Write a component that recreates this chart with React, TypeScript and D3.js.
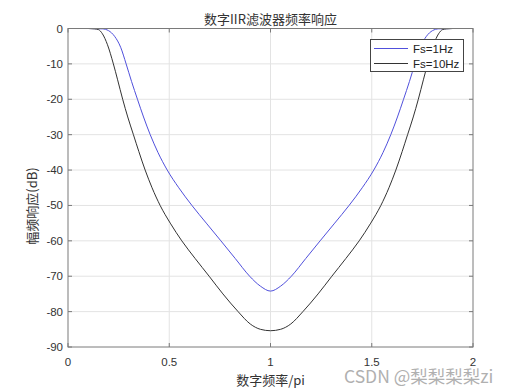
import { useEffect, useRef } from 'react';
import * as d3 from 'd3';

// normalized frequency (x pi) and magnitude (dB)
const freqFs1 = [0, 0.1, 0.17, 0.2, 0.23, 0.26, 0.287, 0.314, 0.343, 0.373, 0.406, 0.444, 0.49, 0.547, 0.612, 0.683, 0.755, 0.826, 0.897, 0.95, 1.0,
  1.05, 1.103, 1.174, 1.245, 1.317, 1.388, 1.453, 1.51, 1.556, 1.594, 1.627, 1.657, 1.686, 1.713, 1.74, 1.77, 1.8, 1.83, 1.9, 2.0];
const dbFs1 = [0, 0, -0.1, -0.6, -2.2, -5.3, -10, -15, -20, -25, -30, -35, -40, -45, -50, -55, -60, -65, -70, -72.8, -74.2,
  -72.8, -70, -65, -60, -55, -50, -45, -40, -35, -30, -25, -20, -15, -10, -5.3, -2.2, -0.6, -0.1, 0, 0];

const freqFs10 = [0, 0.1, 0.13, 0.15, 0.17, 0.195, 0.224, 0.245, 0.27, 0.295, 0.323, 0.35, 0.381, 0.415, 0.455, 0.505, 0.562, 0.628, 0.697, 0.765, 0.84, 0.9, 0.95, 1.0,
  1.05, 1.1, 1.16, 1.235, 1.303, 1.372, 1.438, 1.495, 1.545, 1.585, 1.619, 1.65, 1.677, 1.705, 1.73, 1.755, 1.776, 1.805, 1.83, 1.85, 1.87, 1.9, 2.0];
const dbFs10 = [0, 0, -0.1, -0.3, -1.5, -4.6, -10, -14.5, -20, -25, -30, -34.8, -40, -45, -50, -55, -60, -65, -70, -75, -80, -83.5, -85, -85.4,
  -85, -83.5, -80, -75, -70, -65, -60, -55, -50, -45, -40, -34.8, -30, -25, -20, -14.5, -10, -4.6, -1.5, -0.3, -0.1, 0, 0];

const xTicks = [0, 0.5, 1, 1.5, 2];
const yTicks = [0, -10, -20, -30, -40, -50, -60, -70, -80, -90];

const seriesNames = ['Fs=1Hz', 'Fs=10Hz'];
const seriesColors = ['#5050dc', '#333333'];

const W = 523;
const H = 392;
const CJK = '"Noto Sans CJK SC", "Liberation Sans", Arial, sans-serif';
const SANS = '"Liberation Sans", Arial, sans-serif';

export default function App() {
  const svgRef = useRef<SVGSVGElement>(null);

  useEffect(() => {
    if (!svgRef.current) return;
    const svg = d3.select(svgRef.current);
    svg.selectAll('*').remove();

    const left = 68, right = 473, top = 28.5, bottom = 347;
    const x = d3.scaleLinear([0, 2], [left, right]);
    const y = d3.scaleLinear([-90, 0], [bottom, top]);

    svg.append('rect').attr('width', W).attr('height', H).attr('fill', '#fff');

    // grid
    svg.selectAll('.gx').data(xTicks.slice(1, -1)).join('line')
      .attr('x1', d => x(d)).attr('x2', d => x(d)).attr('y1', top).attr('y2', bottom)
      .attr('stroke', '#e3e3e3').attr('stroke-width', 1);
    svg.selectAll('.gy').data(yTicks.slice(1, -1)).join('line')
      .attr('x1', left).attr('x2', right).attr('y1', d => y(d)).attr('y2', d => y(d))
      .attr('stroke', '#e3e3e3').attr('stroke-width', 1);

    // curves
    const line = d3.line<[number, number]>().x(d => x(d[0])).y(d => y(d[1])).curve(d3.curveMonotoneX);
    const series: [number, number][][] = [
      freqFs1.map((f, i) => [f, dbFs1[i]]),
      freqFs10.map((f, i) => [f, dbFs10[i]]),
    ];
    series.forEach((pts, i) => {
      svg.append('path').datum(pts).attr('d', line).attr('fill', 'none')
        .attr('stroke', seriesColors[i]).attr('stroke-width', 1);
    });

    // axes box + inward ticks
    svg.append('rect').attr('x', left).attr('y', top).attr('width', right - left).attr('height', bottom - top)
      .attr('fill', 'none').attr('stroke', '#7a7a7a').attr('stroke-width', 1);
    xTicks.forEach(t => {
      svg.append('line').attr('x1', x(t)).attr('x2', x(t)).attr('y1', bottom).attr('y2', bottom - 4).attr('stroke', '#7a7a7a');
      svg.append('line').attr('x1', x(t)).attr('x2', x(t)).attr('y1', top).attr('y2', top + 4).attr('stroke', '#7a7a7a');
    });
    yTicks.forEach(t => {
      svg.append('line').attr('x1', left).attr('x2', left + 4).attr('y1', y(t)).attr('y2', y(t)).attr('stroke', '#7a7a7a');
      svg.append('line').attr('x1', right).attr('x2', right - 4).attr('y1', y(t)).attr('y2', y(t)).attr('stroke', '#7a7a7a');
    });

    // tick labels
    svg.selectAll('.xl').data(xTicks).join('text')
      .attr('x', d => x(d)).attr('y', bottom + 19).attr('text-anchor', 'middle')
      .attr('font-family', SANS).attr('font-size', 11.5).attr('fill', '#333').text(d => d3.format('')(d));
    svg.selectAll('.yl').data(yTicks).join('text')
      .attr('x', left - 5).attr('y', d => y(d) + 4).attr('text-anchor', 'end')
      .attr('font-family', SANS).attr('font-size', 11.5).attr('fill', '#333').text(d => String(d));

    // titles
    svg.append('text').attr('x', (left + right) / 2).attr('y', 23.5).attr('text-anchor', 'middle')
      .attr('font-family', CJK).attr('font-size', 13).attr('fill', '#333').text('数字IIR滤波器频率响应');
    svg.append('text').attr('x', (left + right) / 2).attr('y', 385).attr('text-anchor', 'middle')
      .attr('font-family', CJK).attr('font-size', 13).attr('fill', '#333').text('数字频率/pi');
    svg.append('text').attr('transform', 'translate(37,206) rotate(-90)').attr('text-anchor', 'middle')
      .attr('font-family', CJK).attr('font-size', 13).attr('fill', '#333').text('幅频响应(dB)');

    // legend
    const lg = svg.append('g');
    lg.append('rect').attr('x', 370.5).attr('y', 39.5).attr('width', 93).attr('height', 32)
      .attr('fill', '#fff').attr('stroke', '#444').attr('stroke-width', 1);
    seriesNames.forEach((name, i) => {
      const ly = 48.5 + i * 15;
      lg.append('line').attr('x1', 374).attr('x2', 408).attr('y1', ly).attr('y2', ly)
        .attr('stroke', seriesColors[i]).attr('stroke-width', 1);
      lg.append('text').attr('x', 413).attr('y', ly + 4).attr('font-family', SANS).attr('font-size', 11.5)
        .attr('fill', '#222').text(name);
    });

    // watermark
    svg.append('text').attr('x', 344).attr('y', 383).attr('font-family', CJK).attr('font-size', 17.5)
      .attr('fill', '#b0b0b0').text('CSDN @梨梨梨梨zi');
  }, []);

  return <svg ref={svgRef} width={W} height={H} style={{ position: 'absolute', left: 0, top: 0 }} />;
}
